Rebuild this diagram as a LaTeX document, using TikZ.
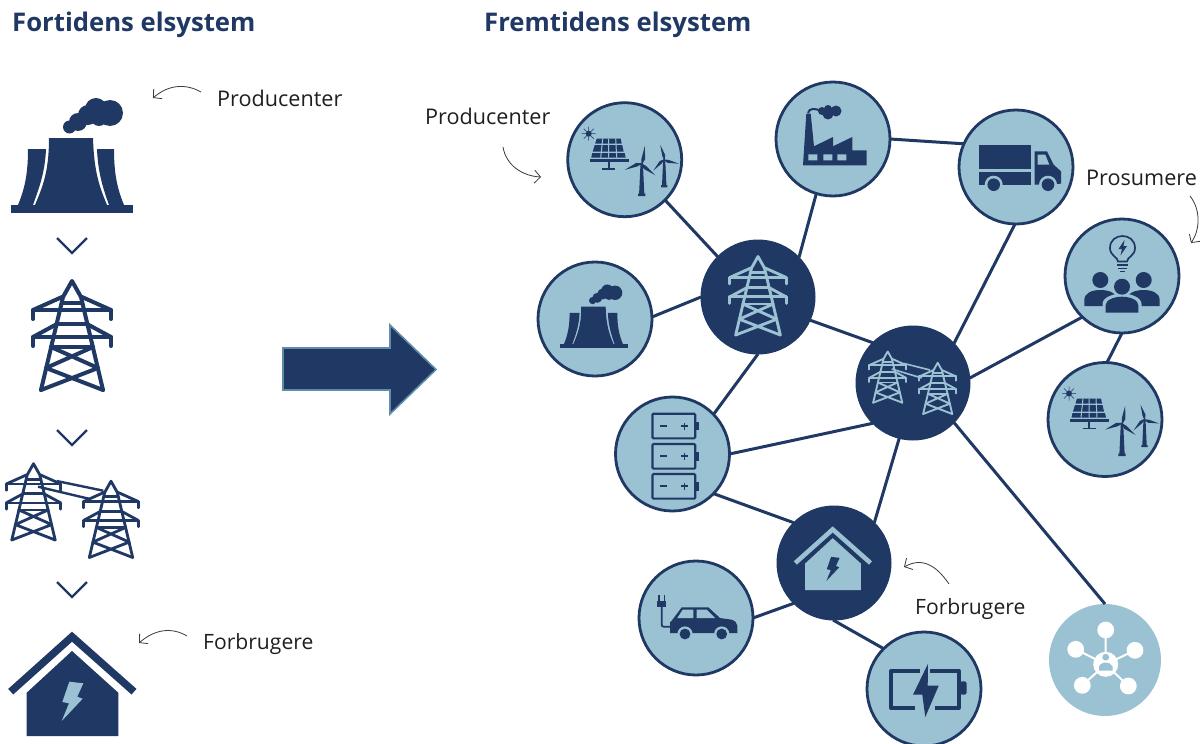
\documentclass[tikz,border=0pt]{standalone}
\usepackage{fontspec}
\setmainfont{Open Sans}
\usetikzlibrary{arrows.meta}
\definecolor{navy}{HTML}{203864}
\definecolor{lightb}{HTML}{9BC2D3}
\definecolor{arrowedge}{HTML}{5F8CA6}
\definecolor{inkc}{HTML}{3A3A3A}
\tikzset{
  disc/.style={circle,draw=navy,fill=lightb,line width=2.8pt,minimum size=114pt,inner sep=0pt,outer sep=0pt},
  darkdisc/.style={circle,draw=navy,fill=navy,line width=1pt,minimum size=114pt,inner sep=0pt,outer sep=0pt},
  hubdisc/.style={circle,fill=lightb,minimum size=112pt,inner sep=0pt,outer sep=0pt},
  link/.style={draw=navy,line width=3pt},
  chevron/.style={draw=navy,line width=2.2pt},
  pointer/.style={draw=inkc,line width=.8pt,-{Straight Barb[length=6pt,width=13pt,line width=.8pt]}},
  heading/.style={anchor=base west,inner sep=0pt,text=navy,font=\fontsize{25.7}{30}\selectfont\bfseries},
  caption/.style={anchor=base west,inner sep=0pt,text=black!88,font=\fontsize{21.6}{26}\selectfont},
  captionb/.style={caption,font=\fontsize{21.1}{26}\selectfont}
}
% cooling tower plant; origin at base centre
\newcommand\PlantIcon[4]{\begin{scope}[shift={(#1,#2)},scale=#3,color=#4]
\fill (-61,-8) rectangle (61,0);
\fill (-23,-75) -- (21,-75) .. controls (22,-40) and (28,-25) .. (35,-8) -- (-37,-8) .. controls (-30,-25) and (-23,-40) .. cycle;
\fill (-44,-64) -- (-26,-64) .. controls (-27,-40) and (-33,-25) .. (-39,-8) -- (-54,-8) .. controls (-47,-25) and (-44,-40) .. cycle;
\fill (25,-64) -- (42,-64) .. controls (42,-40) and (45,-25) .. (52,-8) -- (37,-8) .. controls (31,-25) and (26,-40) .. cycle;
\fill (-2.5,-86) circle (6.5) (6,-91) circle (9) (16,-98) circle (10) (24,-104) circle (11) (38,-100) circle (13) (27,-95) circle (8);
\end{scope}}
% pylon; origin at base centre
\newcommand\TowerIcon[4]{\begin{scope}[shift={(#1,#2)},scale=#3,color=#4,line width=#3*4pt,line join=round,line cap=round]
\draw (-31,0) -- (-9,-93) -- (0,-109) -- (9,-93) -- (31,0);
\draw (-10,-87) -- (10,-87) (-15,-66) -- (15,-66) (-21,-43) -- (21,-43);
\draw (-39,-71) -- (-39,-80) -- (39,-80) -- (39,-71);
\draw (-39,-80) -- (-10,-93) (39,-80) -- (10,-93);
\draw (-39,-44) -- (-39,-53) -- (39,-53) -- (39,-44);
\draw (-39,-53) -- (-15,-66) (39,-53) -- (15,-66);
\draw (-21,-43) -- (26,-22) (21,-43) -- (-26,-22) (-26,-22) -- (31,0) (26,-22) -- (-31,0);
\end{scope}}
% house; origin at base centre; #4 house, #5 bolt
\newcommand\HouseIcon[5]{\begin{scope}[shift={(#1,#2)},scale=#3,color=#4]
\draw[line width=#3*7.5pt,miter limit=10] (-61.3,-44.3) -- (0,-99.3) -- (62,-44.3);
\fill (0,-85) -- (46.3,-43.3) -- (46.3,0) -- (-45.3,0) -- (-45.3,-43.3) -- cycle;
\fill[#5] (-2.7,-54.3) -- (11.3,-52.7) -- (5.3,-39.3) -- (10.7,-37.3) -- (-10.3,-15) -- (-3,-32.7) -- (-9.7,-34) -- cycle;
\end{scope}}
% wind turbine; origin at hub
\newcommand\TurbineIcon[4]{\begin{scope}[shift={(#1,#2)},scale=#3,color=navy]
\fill (-1.2,0) -- (1.2,0) -- (2.6,30) -- (3.6,30) -- (3.6,32.5) -- (-3.6,32.5) -- (-3.6,30) -- (-2.6,30) -- cycle;
\foreach \ang in {#4,#4+120,#4+240}{\fill[rotate=\ang] (0,1.5) -- (2.6,-5) -- (0,-18) -- (-1.1,-5) -- cycle;}
\end{scope}}
% solar panel + two turbines; origin at circle centre
\newcommand\GreenIcon[2]{\begin{scope}[shift={(#1,#2)},color=navy]
\draw[line width=.5pt] (-36,-33) -- (-36,-19) (-43,-26) -- (-29,-26) (-41,-31) -- (-31,-21) (-41,-21) -- (-31,-31);
\fill (-36,-26) circle (3);
\fill (-28,-21) -- (-4,-21) -- (-3,-16) -- (-29.5,-16) -- cycle;
\fill (-30,-14.5) -- (-2.5,-14.5) -- (-1,-8) -- (-32,-8) -- cycle;
\fill (-32.5,-6.5) -- (0,-6.5) -- (1,-2) -- (-33.5,-2) -- cycle;
\fill (-35,-.5) -- (4,-.5) -- (4,2.5) -- (-35,2.5) -- cycle;
\draw[lightb,line width=1pt] (-22,-21) -- (-24,-2) (-16,-21) -- (-16,-2) (-9,-21) -- (-8,-2);
\draw[line width=1.8pt] (-16,2) -- (-16,9) (-22.5,9) -- (-9.5,9);
\end{scope}
\TurbineIcon{#1+17}{#2+4}{1}{-10}
\TurbineIcon{#1+39.5}{#2+0}{.85}{15}}
% three-cell battery; origin at circle centre
\newcommand\CellIcon[2]{\begin{scope}[shift={(#1,#2)},color=navy,line width=2.1pt]
\foreach \dy in {0,30.3,60.3}{\begin{scope}[yshift=-\dy pt]
\draw[rounded corners=1pt] (-20,-40.3) rectangle (22.7,-15.7);
\fill (23,-32.3) rectangle (26.7,-23.7);
\draw[line width=1.9pt] (-13,-28) -- (-5.5,-28) (8.5,-28) -- (15.5,-28) (12,-31.5) -- (12,-24.5);
\end{scope}}
\end{scope}}
\begin{document}
\begin{tikzpicture}[x=1pt,y=-1pt]
\useasboundingbox (0,0) rectangle (1200,744);
\fill[white] (0,0) rectangle (1200,744);

% headings and captions
\node[heading] (hleft) at (12,31.5) {Fortidens elsystem};
\node[heading] (hright) at (484,31.5) {Fremtidens elsystem};
\node[caption] (cprod1) at (217,106) {Producenter};
\node[captionb] (cforb1) at (203,649) {Forbrugere};
\node[caption] (cprod2) at (425,124) {Producenter};
\node[caption] (cpros) at (1086,185) {Prosumere};
\node[captionb] (cforb2) at (915,614) {Forbrugere};

% left column
\PlantIcon{72}{213}{1}{navy}
\TowerIcon{72}{390}{1}{navy}
\TowerIcon{33.5}{540}{.7}{navy}
\TowerIcon{111}{557.5}{.7}{navy}
\draw[navy,line width=2.4pt] (56.7,481) -- (103.3,490.7) (38,486.7) -- (90,499);
\HouseIcon{72}{736}{1}{navy}{lightb}
\coordinate (ch1a) at (57,238); \coordinate (ch1b) at (72,253); \coordinate (ch1c) at (87,238);
\coordinate (ch2a) at (57,430); \coordinate (ch2b) at (72,445); \coordinate (ch2c) at (87,430);
\coordinate (ch3a) at (57,582); \coordinate (ch3b) at (72,597); \coordinate (ch3c) at (87,582);
\draw[chevron] (ch1a) -- (ch1b) -- (ch1c);
\draw[chevron] (ch2a) -- (ch2b) -- (ch2c);
\draw[chevron] (ch3a) -- (ch3b) -- (ch3c);

% large arrow
\draw[fill=navy,draw=arrowedge,line width=1.6pt,line join=miter]
  (283,348) -- (390,348) -- (390,325) -- (436,369.5) -- (390,414) -- (390,390) -- (283,390) -- cycle;

% network nodes
\node[disc] (solarA) at (624.7,159.7) {};
\node[disc] (plant) at (595,319) {};
\node[disc] (factory) at (833,139) {};
\node[disc] (truck) at (1016,167) {};
\node[disc] (people) at (1122,276) {};
\node[disc] (solarB) at (1105,419.5) {};
\node[disc] (cells) at (672.5,454) {};
\node[disc] (car) at (696,618) {};
\node[disc] (batt) at (924,689) {};
\node[darkdisc] (pylon) at (758,297) {};
\node[darkdisc] (pylons) at (913,383) {};
\node[darkdisc] (house) at (834,563) {};
\node[hubdisc] (hub) at (1105,660) {};

% connectors
\draw[link] (solarA.-45.7) -- (pylon.135);
\draw[link] (plant.2) -- (pylon.180);
\draw[link] (factory.-107.8) -- (pylon.44.3);
\draw[link] (factory.0) -- (truck.156.5);
\draw[link] (truck.-91) -- (pylons.44.3);
\draw[link] (pylon.-24.4) -- (pylons.135.7);
\draw[link] (pylon.-90) -- (cells.44.6);
\draw[link] (cells.0) -- (pylons.-135);
\draw[link] (pylons.5) -- (people.-134.3);
\draw[link] (people.-90) -- (solarB.88);
\draw[link] (pylons.-104.3) -- (house.45.7);
\draw[link] (cells.-44.7) -- (house.135.7);
\draw[link] (house.-135) -- (car.0);
\draw[link] (house.-91) -- (batt.135.7);
\draw[link] (pylons.-44.3) -- (hub.north);

% icons inside the discs
\GreenIcon{624.7}{159.7}
\GreenIcon{1105}{419.5}
\PlantIcon{594}{348.3}{.555}{navy}
\TowerIcon{758}{335}{.72}{lightb}
\TowerIcon{887.7}{402.7}{.47}{lightb}
\TowerIcon{937.7}{414}{.47}{lightb}
\draw[lightb,line width=1.6pt] (903.3,363.3) -- (930,370) (891.7,369) -- (921.7,378);
\HouseIcon{832.7}{590}{.61}{lightb}{navy}

% factory
\begin{scope}[shift={(833,139)},color=navy]
\fill (-30,26.3) -- (33.7,26.3) -- (33.7,11.3) -- (19.3,11.3) -- (19.3,-2) -- (0,7.3) -- (0,-2) -- (-19,7.3) -- (-22.3,-25.3) -- (-26.7,-25.3) -- cycle;
\fill[lightb] (-24.7,15.3) rectangle (-15.7,21.3) (-9.7,15.3) rectangle (-.7,21.3) (4.3,15.3) rectangle (13.3,21.3);
\draw[line width=2pt] (-25,-26) .. controls (-24,-31) and (-18,-31) .. (-12,-28);
\fill (-11,-28) circle (4) (-5,-25) circle (5.5) (3,-28) circle (5.5) (-5,-30) circle (4);
\end{scope}

% truck
\begin{scope}[shift={(1016,167)},color=navy]
\fill (-36.7,-21.7) rectangle (15.3,2);
\fill (-36.7,5.3) rectangle (15.3,17.7);
\fill (18.7,-15.7) -- (31,-15.7) -- (37.7,-2.3) -- (45,4.3) -- (45,16.7) -- (18.7,17.7) -- cycle;
\fill[lightb] (21.7,-12.3) -- (29.3,-12.3) -- (33.3,-2.3) -- (21.7,-2.3) -- cycle;
\fill[lightb] (-22.3,17.7) circle (9) (32,17.7) circle (9);
\fill (-22.3,17.7) circle (6.3) (32,17.7) circle (6.3);
\end{scope}

% people with bulb
\begin{scope}[shift={(1122,276)},color=navy]
\draw[line width=1.7pt] (-4,-14.5) .. controls (-4,-19) and (-12,-20) .. (-12,-28) .. controls (-12,-44) and (13,-44) .. (13,-28) .. controls (13,-20) and (5,-19) .. (5,-14.5) -- cycle;
\fill (2.5,-36) -- (-3.5,-27) -- (0,-27) -- (-1.5,-20.5) -- (5,-30) -- (1.5,-30) -- cycle;
\draw[line width=1.4pt] (-5,-11) -- (6,-11) (-4,-7.7) -- (5,-7.7) (-2,-4.3) -- (3,-4.3);
\fill (-21.7,4) circle (8) (21.7,4) circle (8);
\fill (-37.7,30) -- (-37.7,24) .. controls (-37.7,17) and (-30,14) .. (-21.7,14) .. controls (-13,14) and (-5,17) .. (-5,24) -- (-5,30) -- cycle;
\fill (37.7,30) -- (37.7,24) .. controls (37.7,17) and (30,14) .. (21.7,14) .. controls (13,14) and (5,17) .. (5,24) -- (5,30) -- cycle;
\fill[lightb] (0,10.7) circle (10);
\fill[lightb] (-19.5,39) -- (-19.5,28) .. controls (-19.5,21) and (-8,17.5) .. (0,17.5) .. controls (8,17.5) and (19.5,21) .. (19.5,28) -- (19.5,39) -- cycle;
\fill (0,10.7) circle (8);
\fill (-16.3,36.5) -- (-16.3,29) .. controls (-16.3,24) and (-8,20.7) .. (0,20.7) .. controls (8,20.7) and (16.3,24) .. (16.3,29) -- (16.3,36.5) -- cycle;
\end{scope}

\CellIcon{672.5}{454}

% car
\begin{scope}[shift={(696,618)},color=navy]
\fill (-26,15) -- (-26,4.3) -- (-24.3,2.7) -- (-14.3,-10.7) -- (12.3,-10.7) -- (24,0) -- (35.7,1.7) .. controls (39,3) and (41.3,5) .. (41.3,7.7) -- (41.3,15) -- cycle;
\fill[lightb] (-18.7,0) -- (-13.3,-8.3) -- (-2.7,-8.3) -- (-2.7,0) -- cycle;
\fill[lightb] (.7,-8.3) -- (10.7,-8.3) -- (19,0) -- (.7,0) -- cycle;
\fill[lightb] (-11,16) circle (7.6) (25.7,16) circle (7.6);
\fill (-11,16) circle (5.4) (25.7,16) circle (5.4);
\draw[line width=1.8pt,rounded corners=2pt] (-34.3,-11) -- (-34.3,8.7) -- (-26,8.7);
\fill (-38.7,-17.3) rectangle (-30,-10.7);
\draw[line width=1.7pt] (-37.3,-17) -- (-37.3,-23) (-31.4,-17) -- (-31.4,-23);
\end{scope}

% big battery
\begin{scope}[shift={(924,689)},color=navy]
\draw[line width=4pt,line join=round] (-4.3,-18.3) -- (-32.7,-18.3) -- (-32.7,19) -- (-8.7,19);
\draw[line width=4pt,line join=round] (6.3,-18.3) -- (34.7,-18.3) -- (34.7,19) -- (11.3,19);
\fill[rounded corners=1.5pt] (36.3,-7.7) rectangle (42.5,5.7);
\fill (4,-25.3) -- (-11,5.7) -- (-1.7,5.7) -- (1.3,28) -- (14.7,-3.3) -- (3.7,-3.3) -- cycle;
\end{scope}

% hub icon
\begin{scope}[shift={(1105,660)},color=white]
\draw[line width=2pt] (.7,4.3) -- (.7,-30) (.7,4.3) -- (-29.3,-10.7) (.7,4.3) -- (30,-9.7) (.7,4.3) -- (-22.7,25.3) (.7,4.3) -- (23.3,26);
\fill (.7,-30) circle (8.4) (-29.3,-10.7) circle (8.4) (30,-9.7) circle (8.4) (-22.7,25.3) circle (8.4) (23.3,26) circle (8.4);
\fill (.7,4.3) circle (12.5);
\fill[lightb] (.7,-2.8) circle (3.4);
\fill[lightb] (-6,10.5) -- (-6,6.5) .. controls (-5,3.5) and (-1,2.5) .. (.7,2.5) .. controls (3,2.5) and (6.5,3.5) .. (7.5,6.5) -- (7.5,10.5) -- cycle;
\end{scope}

% curved pointers
\coordinate (pa1) at (201,92); \coordinate (pa2) at (153,98);
\coordinate (pb1) at (187,636); \coordinate (pb2) at (139,643);
\coordinate (pc1) at (503,147); \coordinate (pc2) at (541,177);
\coordinate (pd1) at (1190,196); \coordinate (pd2) at (1191,243);
\coordinate (pe1) at (949,584); \coordinate (pe2) at (904,567);
\draw[pointer] (pa1) .. controls (185,83) and (168,85) .. (pa2);
\draw[pointer] (pb1) .. controls (172,627) and (155,629) .. (pb2);
\draw[pointer] (pc1) .. controls (506,165) and (522,176) .. (pc2);
\draw[pointer] (pd1) .. controls (1201,210) and (1200,230) .. (pd2);
\draw[pointer] (pe1) .. controls (936,565) and (922,557) .. (pe2);
\end{tikzpicture}
\end{document}
